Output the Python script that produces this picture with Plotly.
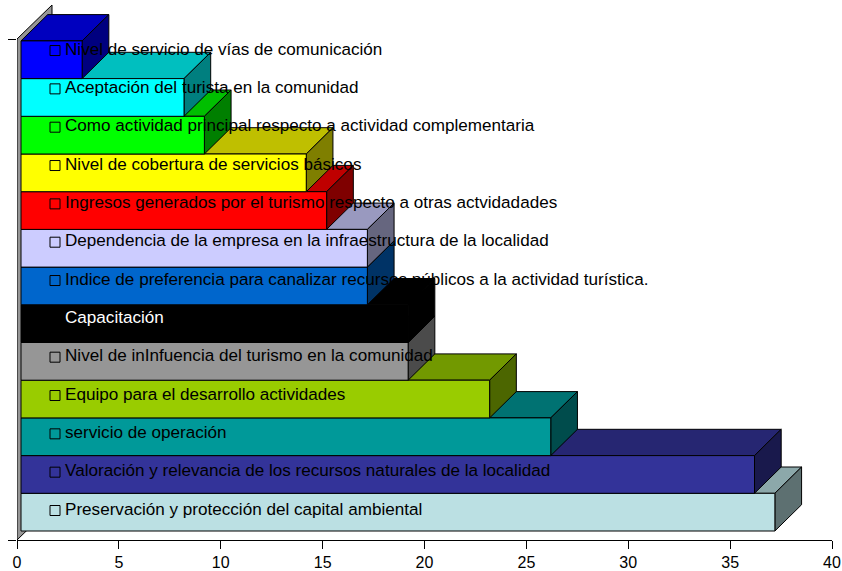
import plotly.graph_objects as go

# de abajo hacia arriba
categorias = ['Preservación y protección del capital ambiental',
              'Valoración y relevancia de los recursos naturales de la localidad',
              'servicio de operación',
              'Equipo para el desarrollo actividades',
              'Nivel de inInfuencia del turismo en la comunidad',
              'Capacitación',
              'Indice de preferencia para canalizar recursos públicos a la actividad turística.',
              'Dependencia de la empresa en la infraestructura de la localidad',
              'Ingresos generados por el turismo respecto a otras actvidadades',
              'Nivel de cobertura de servicios básicos',
              'Como actividad principal respecto a actividad complementaria',
              'Aceptación del turista en la comunidad',
              'Nivel de servicio de vías de comunicación']
valores = [37, 36, 26, 23, 19, 19, 17, 17, 15, 14, 9, 8, 3]
colores = ['#BBE0E3', '#333399', '#009999', '#99CC00', '#969696', '#000000', '#0066CC',
           '#CCCCFF', '#FF0000', '#FFFF00', '#00FF00', '#00FFFF', '#0000FF']
ticks_x = [0, 5, 10, 15, 20, 25, 30, 35, 40]

# escala de la figura en px (el area llega hasta arriba para que no se recorte el 3D)
ML, MR, MT, MB = 17, 10, 0, 31
W, H = 842, 571
px_x = (W - ML - MR) / 40
px_y = 37.7
y_min = -9 / px_y
y_max = y_min + (H - MT - MB) / px_y
y_pared = y_min + 501 / px_y

# offsets de la perspectiva
x0 = 4 / px_x
dx = 26.7 / px_x
dy = 26.3 / px_y
pared_dx = 35 / px_x
pared_dy = 34 / px_y


def sombra(color, f):
    r, g, b = int(color[1:3], 16), int(color[3:5], 16), int(color[5:7], 16)
    return 'rgb(%d,%d,%d)' % (r * f, g * f, b * f)


def poligono(xs, ys, color):
    return go.Scatter(x=xs + xs[:1], y=ys + ys[:1], mode='lines', fill='toself', fillcolor=color,
                      line=dict(color='black', width=1), hoverinfo='skip', cliponaxis=False)


fig = go.Figure()

# pared del eje
fig.add_trace(poligono([0, pared_dx, pared_dx, 0],
                       [y_min, y_min + pared_dy, y_pared + pared_dy, y_pared], '#969696'))

# barras, las de arriba tapan a las de abajo
for i in range(len(valores)):
    v = x0 + valores[i]
    c = colores[i]
    fig.add_trace(poligono([x0, x0 + dx, v + dx, v], [i + 1, i + 1 + dy, i + 1 + dy, i + 1], sombra(c, 0.75)))
    fig.add_trace(poligono([v, v + dx, v + dx, v], [i, i + dy, i + 1 + dy, i + 1], sombra(c, 0.5)))
    fig.add_trace(poligono([x0, v, v, x0], [i, i, i + 1, i + 1], c))

# leyenda encima de las barras
paso = 38.33 / px_y
ley_y = [(531 - 510.5) / px_y + i * paso for i in range(len(categorias))]
fig.add_trace(go.Scatter(x=[(55 - ML) / px_x] * len(categorias), y=ley_y, mode='markers',
                         marker=dict(symbol='square-open', size=10, color='black', line=dict(width=1)),
                         hoverinfo='skip', cliponaxis=False))
fig.add_trace(go.Scatter(x=[(65 - ML) / px_x] * len(categorias), y=ley_y, mode='text',
                         text=categorias, textposition='middle right',
                         textfont=dict(family='Liberation Sans', size=17.1,
                                       color=['white' if c == 'Capacitación' else 'black' for c in categorias]),
                         hoverinfo='skip', cliponaxis=False))

fig.update_layout(width=W, height=H, autosize=False, showlegend=False,
                  margin=dict(l=ML, r=MR, t=MT, b=MB, pad=0, autoexpand=False),
                  paper_bgcolor='white', plot_bgcolor='white',
                  font=dict(family='Liberation Sans', size=16, color='black'))
fig.update_xaxes(range=[0, 40], tickvals=ticks_x, ticks='outside', ticklen=8, tickcolor='black', automargin=False,
                 showline=True, linecolor='black', linewidth=1, showgrid=False, zeroline=False)
fig.update_yaxes(range=[y_min, y_max], tickvals=[y_min, y_pared], ticktext=['', ''], ticks='outside', ticklen=8,
                 automargin=False, tickcolor='black', showline=False, showgrid=False, zeroline=False)

fig.write_html("out.html", config=dict(displayModeBar=False), post_script="document.body.style.margin='0';")
